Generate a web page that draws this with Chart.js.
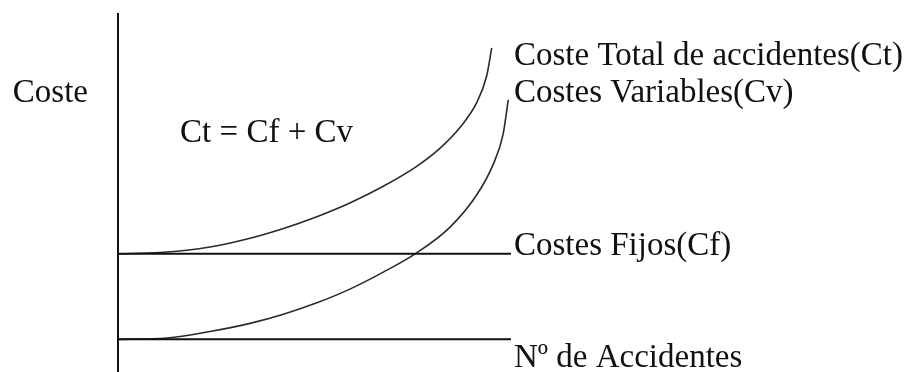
<!DOCTYPE html>
<html>
<head>
<meta charset="utf-8">
<script src="https://cdn.jsdelivr.net/npm/chart.js@4"></script>
<style>
html,body{margin:0;padding:0;background:#fff;}
#wrap{width:916px;height:372px;position:relative;}
</style>
</head>
<body>
<div id="wrap"><canvas id="c"></canvas></div>
<script>
// Accident counts (x) and cost levels (y)
const ctX = [0, 10.7, 23.4, 33.6, 42.1, 50.6, 59.0, 67.5, 76.0, 81.9, 87.0, 91.3, 93.8, 95.1];
const ctY = [26.2, 26.6, 28.3, 31.0, 34.0, 37.6, 41.8, 46.9, 53.0, 58.5, 64.9, 72.6, 80.7, 89.3];
const cvX = [0, 12.5, 23.4, 33.6, 42.1, 50.6, 59.0, 67.5, 76.0, 84.5, 91.3, 95.5, 98.0, 99.3];
const cvY = [0, 0.4, 2.4, 4.9, 7.7, 11.2, 15.4, 20.6, 26.5, 34.4, 44.3, 53.7, 62.9, 73.4];
const cfX = [0, 100];
const cfY = [26.2, 26.2];
const baseX = [0, 100];
const baseY = [0, 0];
const axisX = [0, 0];
const axisY = [-10, 100];

const labelsRight = ["Coste Total de accidentes(Ct)", "Costes Variables(Cv)", "Costes Fijos(Cf)", "Nº de Accidentes"];
const labelsRightY = [84.1, 72.7, 25.9, -8.4];
const yTitle = "Coste";
const yTitleY = 72.7;
const formula = "Ct = Cf + Cv";
const formulaX = 15.8;
const formulaY = 60.5;

const pts = (xs, ys) => xs.map((x, i) => ({x: x, y: ys[i]}));

const textPlugin = {
  id: 'texts',
  afterDatasetsDraw(chart) {
    const {ctx, chartArea, scales} = chart;
    ctx.save();
    ctx.font = '33px "Liberation Serif", "Times New Roman", serif';
    ctx.fillStyle = '#111';
    ctx.textBaseline = 'alphabetic';
    ctx.textAlign = 'left';
    labelsRight.forEach((t, i) => {
      ctx.fillText(t, chartArea.right + 3, scales.y.getPixelForValue(labelsRightY[i]));
    });
    ctx.textAlign = 'right';
    ctx.fillText(yTitle, chartArea.left - 30, scales.y.getPixelForValue(yTitleY));
    ctx.textAlign = 'left';
    ctx.fillText(formula, scales.x.getPixelForValue(formulaX), scales.y.getPixelForValue(formulaY));
    ctx.restore();
  }
};

const straight = {borderColor: '#111', borderWidth: 2, pointRadius: 0, showLine: true, clip: false, tension: 0};
const curve = {borderColor: '#2a2a2a', borderWidth: 1.6, pointRadius: 0, showLine: true, clip: false, cubicInterpolationMode: 'monotone'};

new Chart(document.getElementById('c'), {
  type: 'scatter',
  data: {
    datasets: [
      Object.assign({label: 'axis', data: pts(axisX, axisY)}, straight),
      Object.assign({label: 'Nº de Accidentes', data: pts(baseX, baseY)}, straight),
      Object.assign({label: 'Costes Fijos(Cf)', data: pts(cfX, cfY)}, straight),
      Object.assign({label: 'Coste Total de accidentes(Ct)', data: pts(ctX, ctY)}, curve),
      Object.assign({label: 'Costes Variables(Cv)', data: pts(cvX, cvY)}, curve)
    ]
  },
  options: {
    responsive: true,
    maintainAspectRatio: false,
    animation: false,
    layout: {padding: {left: 118, right: 405, top: 13, bottom: 0}},
    plugins: {legend: {display: false}, tooltip: {enabled: false}},
    scales: {
      x: {type: 'linear', min: 0, max: 100, display: false},
      y: {type: 'linear', min: -10, max: 100, display: false}
    }
  },
  plugins: [textPlugin]
});
</script>
</body>
</html>
